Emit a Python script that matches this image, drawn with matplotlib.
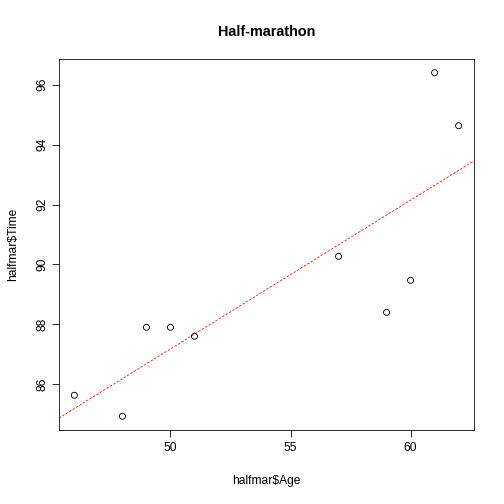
import numpy as np
import matplotlib
matplotlib.use('Agg')
import matplotlib.pyplot as plt

age = [46, 48, 49, 50, 51, 57, 59, 60, 61, 62]
time = [85.63, 84.93, 87.9, 87.9, 87.6, 90.27, 88.4, 89.47, 96.4, 94.63]

plt.rcParams['font.family'] = ['Liberation Sans', 'DejaVu Sans']

fig = plt.figure(figsize=(7, 7), dpi=72)
ax = fig.add_axes([59/504, 74/504, 415/504, 371/504])

ax.scatter(age, time, s=36, facecolors='none', edgecolors='black', linewidths=0.9, zorder=3)

# R-style 4% padding
xr = max(age) - min(age)
yr = max(time) - min(time)
ax.set_xlim(min(age) - 0.04 * xr, max(age) + 0.04 * xr)
ax.set_ylim(min(time) - 0.04 * yr, max(time) + 0.04 * yr)

b, a = np.polyfit(age, time, 1)
xs = np.array(ax.get_xlim())
ax.plot(xs, a + b * xs, color='red', linestyle=(0, (3, 2)), linewidth=0.8)

ax.set_xticks([50, 55, 60])
ax.set_yticks([86, 88, 90, 92, 94, 96])
ax.tick_params(axis='both', length=7, width=0.8, labelsize=12)
ax.tick_params(axis='x', pad=5)
ax.tick_params(axis='y', pad=3)
for lab in ax.get_yticklabels():
    lab.set_rotation(90)
    lab.set_va('center')
for sp in ax.spines.values():
    sp.set_linewidth(0.8)

ax.set_xlabel('halfmar$Age', fontsize=12, labelpad=21)
ax.set_ylabel('halfmar$Time', fontsize=12, labelpad=18)
ax.set_title('Half-marathon', fontsize=14.4, fontweight='bold', pad=23)

fig.savefig('out.png', dpi=72)
